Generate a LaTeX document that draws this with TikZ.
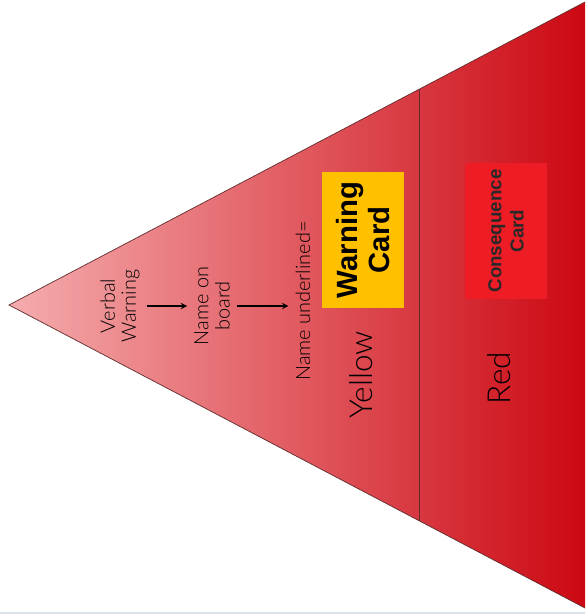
\documentclass[tikz,border=0pt]{standalone}
\usepackage{fontspec}
\setmainfont{Lato}[UprightFont={* Light}]
\newfontfamily\cardfont{Liberation Sans}
\usetikzlibrary{positioning,calc}
\definecolor{palepink}{RGB}{245,172,174}
\definecolor{midred}{RGB}{226,102,106}
\definecolor{deepred}{RGB}{204,8,18}
\definecolor{edgebrown}{RGB}{95,45,45}
\definecolor{cardyellow}{RGB}{255,192,0}
\definecolor{cardred}{RGB}{238,28,37}
\definecolor{cardtext}{RGB}{40,40,40}
\definecolor{pagerule}{RGB}{218,226,236}
\tikzset{
semithick, % thin outlines
>=stealth, % all arrows with stealth tip
step text/.style={rotate=90,align=center,font=\fontsize{17}{18}\selectfont,inner sep=2pt},
colour text/.style={rotate=90,font=\fontsize{27}{30}\selectfont},
card/.style={rotate=90,align=center,minimum width=4.05cm,minimum height=2.48cm,inner sep=0pt},
step arrow/.style={->,line width=1.4pt,shorten <=4pt,shorten >=4pt},
edge line/.style={draw=edgebrown,line width=0.6pt}
}
\begin{document}
\begin{tikzpicture}[x=0.03cm,y=-0.03cm]
\useasboundingbox (0,0) rectangle (585,616);
\coordinate (apex) at (9,305);
\coordinate (ttop) at (585,2);
\coordinate (tbot) at (585,608);
\shade[left color=palepink,middle color=midred,right color=deepred] (apex) -- (ttop) -- (tbot) -- cycle;
\draw[edge line] (ttop) -- (apex) -- (tbot);
\draw[edge line] ($(apex)!0.712!(ttop)$) -- ($(apex)!0.712!(tbot)$);
\draw[pagerule,line width=1pt] (0,613) -- (585,613);

\node[step text]   (verbal)     at (120,306) {Verbal\\Warning};
\node[step text]   (board)      at (212,306) {Name on\\board};
\node[step text]   (underlined) at (303,301) {Name underlined=};
\node[colour text] (yellow)     at (361,375) {Yellow};
\node[card,fill=cardyellow,font=\cardfont\bfseries\fontsize{25}{27}\selectfont] (warning) at (363,240) {Warning\\Card};
\node[card,fill=cardred,text=cardtext,font=\cardfont\bfseries\fontsize{16}{19}\selectfont] (consequence) at (506,231) {Consequence\\Card};
\node[colour text] (red)        at (499,378) {Red};

\draw[step arrow] (verbal) -- (board);
\draw[step arrow] (board) -- (board -| underlined.north);
\end{tikzpicture}
\end{document}
